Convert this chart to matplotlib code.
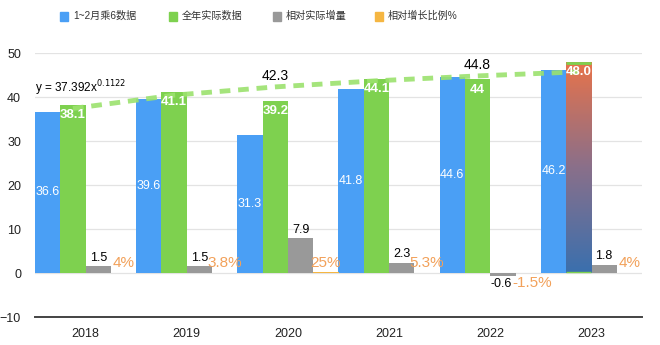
import numpy as np
import matplotlib
matplotlib.use("Agg")
import matplotlib.pyplot as plt
from matplotlib.patches import Rectangle

plt.rcParams['font.family'] = ['Liberation Sans', 'Noto Sans CJK SC', 'DejaVu Sans']

years = ['2018', '2019', '2020', '2021', '2022', '2023']
proj = [36.6, 39.6, 31.3, 41.8, 44.6, 46.2]        # 1~2月乘6数据
actual = [38.1, 41.1, 39.2, 44.1, 44.0, 48.0]      # 全年实际数据
actual_labels = ['38.1', '41.1', '39.2', '44.1', '44', '48.0']
delta = [1.5, 1.5, 7.9, 2.3, -0.6, 1.8]            # 相对实际增量
pct = [0.04, 0.038, 0.25, 0.053, -0.015, 0.04]     # 相对增长比例%
pct_labels = ['4%', '3.8%', '25%', '5.3%', '-1.5%', '4%']
trend_a, trend_b = 37.392, 0.1122                  # 幂函数趋势线 y = a·x^b
trend_notes = [(2, '42.3'), (4, '44.8')]
legend_labels = ['1~2月乘6数据', '全年实际数据', '相对实际增量', '相对增长比例%']

C_BLUE = '#4a9ff5'
C_GREEN = '#7ed14f'
C_GRAY = '#999999'
C_YEL = '#f5b642'
C_PCT = '#f2a15a'

W, H = 660, 345
fig = plt.figure(figsize=(W / 100, H / 100), dpi=100)
ax = fig.add_axes([35/W, 28/H, 607/W, 264/H])

x = np.arange(len(years))
w = 0.25
xb, xg, xd, xp = x - 1.5*w, x - 0.5*w, x + 0.5*w, x + 1.5*w

ax.bar(xb, proj, w, color=C_BLUE, zorder=3)
gbars = ax.bar(xg, actual, w, color=C_GREEN, zorder=3)
ax.bar(xd, delta, w, color=C_GRAY, zorder=3)
ax.bar(xp, pct, w, color=C_YEL, zorder=3)

# last year's actual bar drawn with an orange-to-blue gradient
last = gbars[-1]
last.set_facecolor('none')
bx, bw, bh = last.get_x(), last.get_width(), last.get_height()
grad = np.linspace(0, 1, 256).reshape(-1, 1)
cmap = matplotlib.colors.LinearSegmentedColormap.from_list(
    'g', ['#3a70ae', '#8a6f8a', '#e8734a'])
im = ax.imshow(grad, extent=[bx, bx + bw, 0, bh], origin='lower',
               cmap=cmap, aspect='auto', zorder=3.1)
im.set_clip_path(last)
ax.plot([bx, bx + bw], [bh - 0.25, bh - 0.25], color=C_GREEN, lw=2,
        zorder=3.2, solid_capstyle='butt')
ax.plot([bx, bx + bw], [0.3, 0.3], color=C_GREEN, lw=1,
        zorder=3.2, solid_capstyle='butt')

# power trend line across the actual-data bars
k = np.arange(1, len(years) + 1)
trend = trend_a * k**trend_b
ax.plot(xg, trend, color='#9be26e', lw=3.5,
        dashes=(2.2, 1.6), zorder=4, alpha=0.9)
ax.text(-0.5, 41.9, 'y = 37.392x$^{0.1122}$', fontsize=8.5, ha='left',
        va='center', clip_on=False)
for i, t in trend_notes:
    ax.text(xg[i], trend[i] + 2.4, t, fontsize=10, ha='center',
            va='center', clip_on=False)

# data labels
for i in range(len(years)):
    ax.text(xb[i], proj[i] / 2, f'{proj[i]:.1f}', color='white', fontsize=9,
            ha='center', va='center', zorder=5)
    ax.text(xg[i], actual[i] - 2.3, actual_labels[i], color='white',
            fontsize=9.5, fontweight='bold', ha='center', va='center', zorder=5)
    if delta[i] >= 0:
        ax.text(xd[i], delta[i] + 0.6, f'{delta[i]:.1f}', fontsize=9,
                ha='center', va='bottom', zorder=5)
    else:
        ax.text(xd[i] - 0.02, delta[i] - 0.6, f'{delta[i]:.1f}', fontsize=9,
                ha='center', va='top', zorder=5)
    if pct[i] >= 0:
        ax.text(xp[i], 2.3, pct_labels[i], color=C_PCT, fontsize=11,
                ha='center', va='center', zorder=5)
    else:
        ax.text(xp[i] + 0.04, -2.3, pct_labels[i], color=C_PCT, fontsize=11,
                ha='center', va='center', zorder=5)

ax.set_xlim(-0.5, len(years) - 0.5)
ax.set_ylim(-10, 50)
ax.set_yticks(range(-10, 51, 10))
ax.set_xticks(x)
ax.set_xticklabels(years)
ax.tick_params(axis='both', length=0, labelsize=9, colors='#222222')
ax.tick_params(axis='y', pad=10)
ax.tick_params(axis='x', pad=8)
ax.grid(axis='y', color='#e3e3e3', lw=0.9, zorder=0)
for s in ['top', 'right', 'left']:
    ax.spines[s].set_visible(False)
ax.spines['bottom'].set_color('#444444')
ax.spines['bottom'].set_linewidth(1.4)

# legend row across the top, one swatch + label per series
leg_x = [60, 169, 273, 375]
for px, col, lab in zip(leg_x, [C_BLUE, C_GREEN, C_GRAY, C_YEL], legend_labels):
    fig.add_artist(Rectangle((px / W, 1 - 20.5 / H), 8 / W, 9 / H,
                             transform=fig.transFigure, color=col))
    fig.text((px + 13) / W, 1 - 16 / H, lab, fontsize=7.3, color='#333333',
             ha='left', va='center')

fig.savefig('out.png', dpi=100)
